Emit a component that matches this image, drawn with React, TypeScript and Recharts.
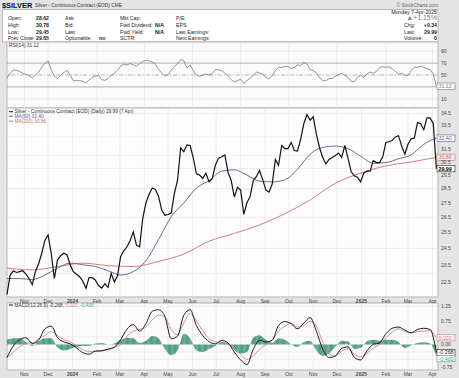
import React from "react";
import {Area, CartesianGrid, ComposedChart, Line, LineChart, ReferenceLine, XAxis, YAxis} from "recharts";

// day 0 = first bar on the chart
const startDate = "2023-10-10";
const dayMax = 546;

const monthStarts = [
    "2023-11-01", "2023-12-01", "2024-01-01", "2024-02-01", "2024-03-01", "2024-04-01",
    "2024-05-01", "2024-06-01", "2024-07-01", "2024-08-01", "2024-09-01", "2024-10-01",
    "2024-11-01", "2024-12-01", "2025-01-01", "2025-02-01", "2025-03-01", "2025-04-01",
];
const monthLabels = ["Nov", "Dec", "2024", "Feb", "Mar", "Apr", "May", "Jun", "Jul", "Aug", "Sep", "Oct", "Nov", "Dec", "2025", "Feb", "Mar", "Apr"];

// closes, one every 4 days
const closeStep = 4;
const closes = [
    21.8, 22.9, 23.15, 23.05, 23.1, 23.15, 22.95, 22.7, 22.35, 23.1,
    23.55, 24.2, 25.0, 25.35, 24.2, 22.7, 23.8, 24.05, 24.2, 24.1,
    23.5, 23.1, 22.95, 22.8, 22.55, 22.15, 22.75, 22.75, 22.6, 22.3,
    22.15, 22.4, 22.2, 23.0, 22.5, 22.85, 24.0, 24.35, 24.6, 25.0,
    25.55, 24.7, 24.6, 26.45, 27.5, 28.1, 28.55, 28.45, 27.95, 27.0,
    26.65, 26.7, 26.8, 28.15, 29.1, 31.6, 31.3, 31.85, 31.8, 30.8,
    29.6, 29.5, 29.25, 29.65, 29.0, 29.25, 30.25, 30.8, 30.9, 31.05,
    29.7, 29.1, 27.9, 28.6, 28.4, 26.7, 27.5, 27.95, 29.1, 29.4,
    29.85, 29.15, 28.4, 28.25, 28.85, 30.7, 30.25, 31.8, 31.55, 31.55,
    32.05, 31.4, 31.35, 32.3, 33.6, 34.4, 33.9, 34.2, 32.7, 31.6,
    30.85, 30.35, 30.7, 30.85, 31.0, 31.2, 30.85, 31.8, 30.8, 29.75,
    29.45, 29.35, 29.0, 29.65, 29.8, 29.8, 30.6, 30.45, 30.45, 30.9,
    32.05, 32.1, 32.2, 32.5, 32.6, 31.75, 31.1, 31.9, 32.35, 32.4,
    33.7, 33.6, 33.1, 34.1, 34.1, 33.6, 29.99,
];

const ma50Step = 16;
const ma50 = [
    22.7, 22.7, 22.63, 22.9, 23.3, 23.6, 23.5, 23.4, 23.15, 22.9,
    23.1, 23.75, 25.05, 26.55, 27.5, 28.55, 29.1, 29.8, 29.9, 29.5,
    29.05, 29.0, 29.15, 29.95, 31.1, 31.65, 31.75, 31.55, 30.95, 30.4,
    30.45, 30.75, 31.05, 31.9, 32.4,
];

const ma200Step = 32;
const ma200 = [23.3, 23.2, 23.4, 23.6, 23.45, 23.4, 23.7, 24.15, 24.95, 25.45, 26.0, 26.75, 27.7, 28.9, 29.65, 30.2, 30.5, 30.86];

const rsiStep = 4;
const rsi = [
    45, 53, 58, 58, 56, 53, 51, 49.5, 45, 49.5,
    55, 63, 70, 74, 59, 48, 44, 49.5, 54, 58,
    49.5, 40.5, 40.5, 40.5, 39.5, 37, 41.5, 46, 48, 49.5,
    42, 41, 44, 49.5, 52.8, 58, 65, 68.3, 66.7, 69.4,
    67, 65, 69, 72.8, 75, 74, 71.7, 68.3, 59.4, 53.3,
    48.3, 50.5, 57.8, 64.4, 68.9, 76, 74, 61.7, 67, 57.2,
    49.5, 47.8, 50, 51.7, 50, 52.2, 59, 59, 57.2, 53.3,
    47.8, 42.2, 38.3, 40.5, 42.8, 36, 40.5, 45, 49.5, 55,
    53.3, 51.7, 46, 43.3, 49.5, 57.2, 62.8, 62.8, 64.4, 64.4,
    60.5, 63.3, 66.7, 66, 71.7, 68.3, 59, 57.2, 53.3, 45,
    40.5, 40.5, 44, 44, 47.8, 50.5, 52.8, 49.5, 46, 39.5,
    38.3, 46, 49.5, 46, 51.7, 55, 52.8, 56, 62.8, 63.9,
    62.8, 63.9, 60.5, 56, 51.7, 52.8, 49.5, 49.5, 57.2, 62.8,
    62.8, 65, 62.8, 60.5, 59, 51.7, 31.12,
];

const macdStep = 8;
const macd = [
    -0.43, -0.05, 0.16, 0.22, 0.03, 0.14, 0.51, 0.60, 0.22, 0.08,
    0.02, -0.11, -0.27, -0.32, -0.22, -0.21, -0.15, -0.09, 0.16, 0.50,
    0.65, 0.44, 0.68, 1.09, 1.14, 0.92, 0.19, 0.27, 0.96, 1.14,
    0.62, 0.29, 0.09, 0.02, 0.13, 0.05, -0.25, -0.51, -0.66, -0.16,
    0.14, 0.08, 0.14, 0.62, 0.75, 0.68, 0.51, 0.70, 0.88, 0.43,
    -0.16, -0.43, -0.38, -0.13, -0.08, -0.43, -0.51, -0.21, 0.0, 0.05,
    0.35, 0.53, 0.57, 0.47, 0.38, 0.49, 0.53, 0.49, -0.268,
];
const signal = [
    -0.45, -0.25, -0.08, 0.04, 0.05, 0.18, 0.30, 0.42, 0.29, 0.16,
    0.09, -0.04, -0.17, -0.24, -0.22, -0.21, -0.18, -0.10, 0.0, 0.27,
    0.43, 0.49, 0.57, 0.81, 0.96, 0.90, 0.49, 0.32, 0.70, 1.01,
    0.77, 0.45, 0.18, 0.09, 0.05, 0.0, -0.12, -0.34, -0.49, -0.38,
    -0.16, -0.01, 0.14, 0.43, 0.60, 0.70, 0.57, 0.62, 0.76, 0.60,
    0.08, -0.32, -0.38, -0.22, -0.14, -0.32, -0.41, -0.29, -0.11, 0.0,
    0.22, 0.40, 0.51, 0.43, 0.38, 0.42, 0.44, 0.45, 0.22,
];
const hist = [
    0.15, 0.2, 0.2, 0.08, -0.05, 0.1, 0.2, 0.2, -0.1, -0.2,
    -0.15, -0.08, -0.05, -0.05, 0.03, 0.05, 0.0, 0.03, 0.15, 0.22,
    0.2, 0.05, 0.12, 0.28, 0.2, -0.15, -0.35, -0.2, 0.35, 0.2,
    -0.2, -0.25, -0.15, -0.05, 0.08, 0.05, -0.18, -0.3, -0.25, 0.22,
    0.3, 0.15, 0.05, 0.2, 0.15, 0.0, -0.08, 0.08, 0.12, -0.2,
    -0.38, -0.3, -0.08, 0.12, 0.1, -0.15, -0.12, 0.1, 0.15, 0.12,
    0.15, 0.15, 0.08, -0.12, -0.03, 0.05, 0.07, 0.03, -0.4,
];

const priceTicks = [22, 22.5, 23, 23.5, 24, 24.5, 25, 25.5, 26, 26.5, 27, 27.5, 28, 28.5, 29, 29.5, 30, 30.5, 31, 31.5, 32, 32.5, 33, 33.5, 34, 34.5];
const priceHidden = [32.5, 31, 30];
const rsiTicks = [10, 30, 50, 70, 90];
const rsiHidden = [30];
const macdTicks = [-0.75, -0.5, -0.25, 0, 0.25, 0.5, 0.75, 1, 1.25];
const macdHidden = [-0.5, -0.25, 0.25];

const quoteCols = [
    {x: 8, vx: 36, rows: [["Open:", "28.62"], ["High:", "30.78"], ["Low:", "29.45"], ["Prev Close:", "29.65"]]},
    {x: 65, vx: 99, rows: [["Ask:", ""], ["Bid:", ""], ["Last:", ""], ["Optionable:", "no"]]},
    {x: 120, vx: 155, rows: [["Mkt Cap:", ""], ["Fwd Dividend:", "N/A"], ["Fwd Yield:", "N/A"], ["SCTR:", ""]]},
    {x: 176, vx: 230, rows: [["P/E:", ""], ["EPS:", ""], ["Last Earnings:", ""], ["Next Earnings:", ""]]},
];
const quoteRight = [["Chg:", "+0.34"], ["Last:", "29.99"], ["Volume:", "0"]];
const rowY = [18.3, 25, 31.7, 38.3];

const FONT = "'Liberation Sans', Arial, sans-serif";
const GRID = "#e1e1e1";
const PANEL_L = 7;
const PANEL_R = 438;
const HIST_GREEN = "#4f9c80";

const dayOf = (s: string) => Math.round((Date.parse(s) - Date.parse(startDate)) / 86400000);
const monthDays = monthStarts.map(dayOf);
const labelOf = (d: number) => monthLabels[monthDays.indexOf(d)] ?? "";

const priceRows = closes.map((c, i) => ({d: i * closeStep, close: c}));
const ma50Rows = ma50.map((v, i) => ({d: i * ma50Step, v}));
const ma200Rows = ma200.map((v, i) => ({d: i * ma200Step, v}));
const rsiRows = rsi.map((v, i) => ({d: i * rsiStep, rsi: v}));
const macdRows = macd.map((v, i) => ({d: i * macdStep, macd: v, signal: signal[i], hist: hist[i]}));

const MonthTick = (props: any) => {
    const {x, y, payload} = props;
    const label = labelOf(payload.value);
    const bold = label.length === 4;
    return (
        <text x={x} y={y + 3.6} textAnchor="middle" fontSize={5} fontFamily={FONT}
              fontWeight={bold ? 700 : 400} fill="#444">{label}</text>
    );
};

const fmt = (hidden: number[], digits: number) => (v: number) => hidden.includes(v) ? "" : v.toFixed(digits);

const tag = (text: string, color: string, bg: string, bold = false, dy = 0) => (props: any) => {
    const {viewBox} = props;
    const x = viewBox.x + viewBox.width - 1;
    const y = viewBox.y + dy;
    return (
        <g>
            <rect x={x} y={y - 3.2} width={18} height={6.4} fill={bg} stroke={color} strokeWidth={0.6}/>
            <text x={x + 1.5} y={y + 1.9} fontSize={5.3} fontFamily={FONT} fill={bold ? "#000" : color}
                  fontWeight={bold ? 700 : 400}>{text}</text>
        </g>
    );
};

const axisTick = {fontSize: 5, fill: "#444", fontFamily: FONT};

const Txt = ({x, y, children, size = 5.2, weight = 400, fill = "#222", anchor = "start"}: any) => (
    <text x={x} y={y + size * 0.35} fontSize={size} fontWeight={weight} fill={fill} textAnchor={anchor}
          fontFamily={FONT}>{children}</text>
);

const App = () => {
    return (
        <div style={{position: "absolute", left: 0, top: 0, width: 459, height: 378, background: "#e4e4e4", overflow: "hidden"}}>
            <svg width={459} height={378} style={{position: "absolute", left: 0, top: 0}}>
                <rect x={2.5} y={9.5} width={435.5} height={32.5} fill="#fff" stroke="#aaa" strokeWidth={0.8}/>
                <rect x={PANEL_L} y={42} width={PANEL_R - PANEL_L} height={66} fill="#fbfbfb" stroke="#999" strokeWidth={0.8}/>
                <rect x={PANEL_L} y={108} width={PANEL_R - PANEL_L} height={189} fill="#fdfdfd" stroke="#999" strokeWidth={0.8}/>
                <rect x={PANEL_L} y={303} width={PANEL_R - PANEL_L} height={67} fill="#fbfbfb" stroke="#999" strokeWidth={0.8}/>
            </svg>

            <div style={{position: "absolute", left: 0, top: 42}}>
                <LineChart width={459} height={66} data={rsiRows} margin={{top: 0, right: 0, bottom: 0, left: PANEL_L}}>
                    <CartesianGrid stroke={GRID} strokeWidth={0.6}/>
                    <XAxis dataKey="d" type="number" domain={[0, dayMax]} ticks={monthDays} hide/>
                    <YAxis orientation="right" width={21} type="number" domain={[-5.5, 105.5]} ticks={rsiTicks}
                           tickFormatter={fmt(rsiHidden, 0)} tick={axisTick} tickLine={false} axisLine={false}
                           tickSize={0} tickMargin={3} allowDataOverflow/>
                    <ReferenceLine y={70} stroke="#9a9a9a" strokeWidth={0.8}/>
                    <ReferenceLine y={30} stroke="#9a9a9a" strokeWidth={0.8}/>
                    <ReferenceLine y={50} stroke="#a8a8a8" strokeWidth={0.7} strokeDasharray="4 2 1 2"/>
                    <Line dataKey="rsi" stroke="#7a7a7a" strokeWidth={0.8} dot={false} isAnimationActive={false}/>
                    <ReferenceLine y={31.12} stroke="none" label={tag("31.12", "#777", "#fff")}/>
                </LineChart>
            </div>

            <div style={{position: "absolute", left: 0, top: 108}}>
                <ComposedChart width={459} height={197} data={priceRows} margin={{top: 0, right: 0, bottom: 0, left: PANEL_L}}>
                    <CartesianGrid stroke={GRID} strokeWidth={0.6}/>
                    <XAxis dataKey="d" type="number" domain={[0, dayMax]} ticks={monthDays} interval={0}
                           height={8} tick={<MonthTick/>} tickLine={false} axisLine={false} tickSize={0}/>
                    <YAxis orientation="right" width={21} type="number" scale="log" domain={[21.66, 34.97]}
                           ticks={priceTicks} tickFormatter={fmt(priceHidden, 1)} tick={axisTick}
                           tickLine={false} axisLine={false} tickSize={0} tickMargin={3} allowDataOverflow/>
                    <Line data={ma200Rows} dataKey="v" stroke="#c9706e" strokeWidth={0.9} dot={false}
                          type="monotone" isAnimationActive={false}/>
                    <Line data={ma50Rows} dataKey="v" stroke="#5a5a96" strokeWidth={0.9} dot={false}
                          type="monotone" isAnimationActive={false}/>
                    <Line dataKey="close" stroke="#111" strokeWidth={1.2} dot={false} isAnimationActive={false}/>
                    <ReferenceLine y={32.4} stroke="none" label={tag("32.40", "#5a5a96", "#fff")}/>
                    <ReferenceLine y={30.86} stroke="none" label={tag("30.86", "#c9706e", "#fdeeee")}/>
                    <ReferenceLine y={29.99} stroke="none" label={tag("29.99", "#222", "#fff", true)}/>
                </ComposedChart>
            </div>

            <div style={{position: "absolute", left: 0, top: 303}}>
                <ComposedChart width={459} height={75} data={macdRows} margin={{top: 0, right: 0, bottom: 0, left: PANEL_L}}>
                    <defs>
                        <pattern id="histStripes" patternUnits="userSpaceOnUse" width={1.2} height={10}>
                            <rect x={0} y={0} width={1.2} height={10} fill="#8cc2ad"/>
                            <rect x={0} y={0} width={0.9} height={10} fill={HIST_GREEN}/>
                        </pattern>
                    </defs>
                    <CartesianGrid stroke={GRID} strokeWidth={0.6}/>
                    <XAxis dataKey="d" type="number" domain={[0, dayMax]} ticks={monthDays} interval={0}
                           height={8} tick={<MonthTick/>} tickLine={false} axisLine={false} tickSize={0}/>
                    <YAxis orientation="right" width={21} type="number" domain={[-0.84, 1.36]} ticks={macdTicks}
                           tickFormatter={fmt(macdHidden, 2)} tick={axisTick}
                           tickLine={false} axisLine={false} tickSize={0} tickMargin={3} allowDataOverflow/>
                    <Area dataKey="hist" type="monotone" baseValue={0} stroke="none" fill="url(#histStripes)"
                          fillOpacity={1} isAnimationActive={false}/>
                    <Line dataKey="signal" stroke="#cf8686" strokeWidth={0.9} dot={false} type="monotone"
                          isAnimationActive={false}/>
                    <Line dataKey="macd" stroke="#1a1a1a" strokeWidth={1.0} dot={false} type="monotone"
                          isAnimationActive={false}/>
                    <ReferenceLine y={0.22} stroke="none" label={tag("0.220", "#cf8686", "#fdeeee")}/>
                    <ReferenceLine y={-0.268} stroke="none" label={tag("-0.268", "#222", "#fff")}/>
                    <ReferenceLine y={-0.4} stroke="none" label={tag("-0.400", HIST_GREEN, "#fff", false, 2)}/>
                </ComposedChart>
            </div>

            <svg width={459} height={378} style={{position: "absolute", left: 0, top: 0, pointerEvents: "none"}}>
                <Txt x={2} y={5} size={7.4} weight={700} fill="#111">$SILVER</Txt>
                <Txt x={35} y={5} size={4.8} fill="#333">Silver - Continuous Contract (EOD) CME</Txt>
                <Txt x={438} y={5} size={4.8} fill="#666" anchor="end">© StockCharts.com</Txt>

                {quoteCols.map((col, ci) => col.rows.map((r, ri) => (
                    <g key={`${ci}-${ri}`}>
                        <Txt x={col.x} y={rowY[ri]}>{r[0]}</Txt>
                        {r[1] ? <Txt x={col.vx} y={rowY[ri]} weight={700}>{r[1]}</Txt> : null}
                    </g>
                )))}

                <Txt x={437} y={11.7} anchor="end">Monday  7-Apr-2025</Txt>
                <Txt x={437} y={17.8} size={7} fill="#6d7d96" anchor="end">▲+1.15%</Txt>
                {quoteRight.map((r, i) => (
                    <g key={r[0]}>
                        <Txt x={404} y={rowY[i + 1]}>{r[0]}</Txt>
                        <Txt x={437} y={rowY[i + 1]} weight={700} anchor="end">{r[1]}</Txt>
                    </g>
                ))}

                <Txt x={9} y={45.5} size={4.8} fill="#333">RSI(14) 31.12</Txt>

                <line x1={9} x2={13} y1={111.7} y2={111.7} stroke="#111" strokeWidth={1}/>
                <Txt x={14.5} y={111.7} size={4.8} fill="#333">Silver - Continuous Contract (EOD) (Daily) 29.99 (7 Apr)</Txt>
                <line x1={9} x2={13} y1={116.2} y2={116.2} stroke="#5a5a96" strokeWidth={1}/>
                <Txt x={14.5} y={116.2} size={4.8} fill="#5a5a96">MA(50) 32.40</Txt>
                <line x1={9} x2={13} y1={121.2} y2={121.2} stroke="#c9706e" strokeWidth={1}/>
                <Txt x={14.5} y={121.2} size={4.8} fill="#c9706e">MA(200) 30.86</Txt>

                <line x1={9} x2={13} y1={305} y2={305} stroke="#111" strokeWidth={1}/>
                <text x={14.5} y={306.7} fontSize={4.8} fontFamily={FONT}>
                    <tspan fill="#333">MACD(12,26,9) -0.268, </tspan>
                    <tspan fill="#cf8686">0.220, </tspan>
                    <tspan fill={HIST_GREEN}>-0.400</tspan>
                </text>
            </svg>
        </div>
    );
};

export default App;
